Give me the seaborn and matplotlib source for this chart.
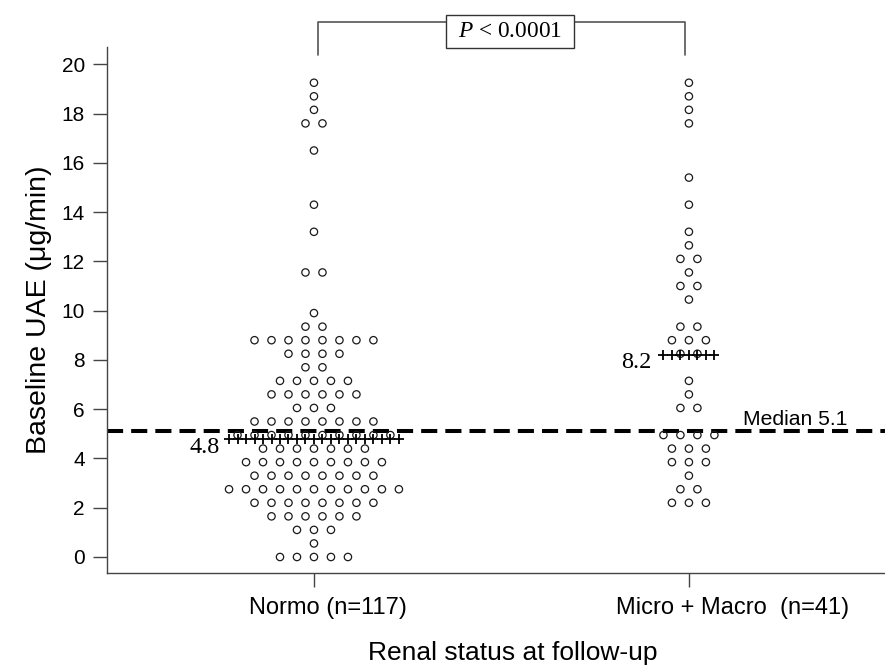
import numpy as np
import pandas as pd
import seaborn as sns
import matplotlib
matplotlib.use("Agg")
import matplotlib.pyplot as plt
from matplotlib.patches import Rectangle
from matplotlib.transforms import ScaledTranslation

# ---------------- data ----------------
groups = ["Normo (n=117)", "Micro + Macro  (n=41)"]

normo_levels = [0.0, 0.55, 1.1, 1.65, 2.2, 2.75, 3.3, 3.85, 4.4, 4.95, 5.5, 6.05,
                6.6, 7.15, 7.7, 8.25, 8.8, 9.35, 9.9, 11.55, 13.2, 14.3, 16.5,
                17.6, 18.15, 18.7, 19.25]
normo_counts = [5, 1, 3, 6, 8, 11, 8, 9, 7, 10, 8, 3,
                6, 5, 2, 4, 8, 2, 1, 2, 1, 1, 1,
                2, 1, 1, 1]

micro_levels = [2.2, 2.75, 3.3, 3.85, 4.4, 4.95, 6.05, 6.6, 7.15, 8.25, 8.8, 9.35,
                10.45, 11.0, 11.55, 12.1, 12.65, 13.2, 14.3, 15.4, 17.6, 18.15,
                18.7, 19.25]
micro_counts = [3, 2, 1, 3, 3, 4, 2, 1, 1, 2, 3, 2,
                1, 2, 1, 2, 1, 1, 1, 1, 1, 1,
                1, 1]

group_medians = [4.8, 8.2]
median_labels = ["4.8", "8.2"]
overall_median = 5.1
overall_label = "Median 5.1"
p_text = "$P$ < 0.0001"
y_ticks = list(range(0, 21, 2))
x_title = "Renal status at follow-up"
y_title = "Baseline UAE (\u03bcg/min)"

# ---------------- build long table ----------------
DX = 0.0453  # horizontal dot spacing (data units)
rows = []
for gi, (levels, counts) in enumerate([(normo_levels, normo_counts),
                                       (micro_levels, micro_counts)]):
    for lv, c in zip(levels, counts):
        for k in range(c):
            rows.append((gi + (k - (c - 1) / 2) * DX, lv, groups[gi]))
df = pd.DataFrame(rows, columns=["xpos", "UAE", "group"])

plus_rows = []
for gi, counts in enumerate([normo_counts, micro_counts]):
    half = (max(counts) - 1) / 2 * DX
    n = int(round(2 * half / (DX / 2))) + 1
    for xx in np.linspace(gi - half, gi + half, n):
        plus_rows.append((xx, group_medians[gi]))
dfp = pd.DataFrame(plus_rows, columns=["xpos", "UAE"])

# ---------------- plot ----------------
sns.set_theme(style="ticks")
plt.rcParams["font.family"] = ["Liberation Sans", "DejaVu Sans"]
plt.rcParams["mathtext.fontset"] = "custom"
plt.rcParams["mathtext.it"] = "Liberation Serif:italic"
plt.rcParams["mathtext.rm"] = "Liberation Serif"

fig = plt.figure(figsize=(8.85, 6.68), dpi=100)
ax = fig.add_axes([0.1209, 0.1422, 0.8791, 0.7874])

ax.axhline(overall_median, color="black", lw=2.9, dashes=(4.0, 2.0), zorder=1)

sns.scatterplot(data=df, x="xpos", y="UAE", marker="o", s=28,
                facecolor="none", edgecolor="#1a1a1a", linewidth=0.9,
                ax=ax, legend=False, zorder=3)
sns.scatterplot(data=dfp, x="xpos", y="UAE", marker="+", s=45,
                color="black", linewidth=1.3, ax=ax, legend=False, zorder=4)

ax.set_xlim(-0.552, 1.523)
ax.set_ylim(-0.65, 20.7)
ax.set_yticks(y_ticks)
ax.set_xticks([0, 1])
ax.set_xticklabels(groups)
sns.despine(ax=ax)
for s in ["left", "bottom"]:
    ax.spines[s].set_color("#444444")
    ax.spines[s].set_linewidth(1.0)
ax.tick_params(axis="both", length=10, width=1, color="#444444",
               labelsize=15, pad=6, labelcolor="black")
ax.tick_params(axis="x", labelsize=17, pad=7)
# x tick labels sit slightly right of their ticks in the reference
for lab, shift_px in zip(ax.get_xticklabels(), [14, 44]):
    lab.set_transform(lab.get_transform() +
                      ScaledTranslation(shift_px / 100, 0, fig.dpi_scale_trans))
ax.set_xlabel(x_title, fontsize=19, labelpad=16, color="black")
ax.xaxis.label.set_x(0.521)
ax.set_ylabel(y_title, fontsize=20.5, labelpad=7, color="black")

# median value labels
ax.text(-0.251, 4.46, median_labels[0], family="Liberation Serif", fontsize=17.5,
        ha="right", va="center", color="black")
ax.text(0.901, 7.91, median_labels[1], family="Liberation Serif", fontsize=17.5,
        ha="right", va="center", color="black")
ax.text(1.143, 5.35, overall_label, fontsize=15.2, ha="left", va="baseline",
        color="black")

# significance bracket
ax.plot([0.01, 0.01, 0.99, 0.99], [20.37, 21.7, 21.7, 20.37], color="#555555",
        lw=1.2, clip_on=False, zorder=4)
ax.add_patch(Rectangle((0.351, 20.66), 0.342, 1.33, facecolor="white",
                       edgecolor="#333333", lw=1.0, clip_on=False, zorder=5))
ax.text(0.522, 21.33, p_text, family="Liberation Serif", fontsize=16.8,
        ha="center", va="center", zorder=6, color="black")

fig.savefig("out.png", dpi=100)
